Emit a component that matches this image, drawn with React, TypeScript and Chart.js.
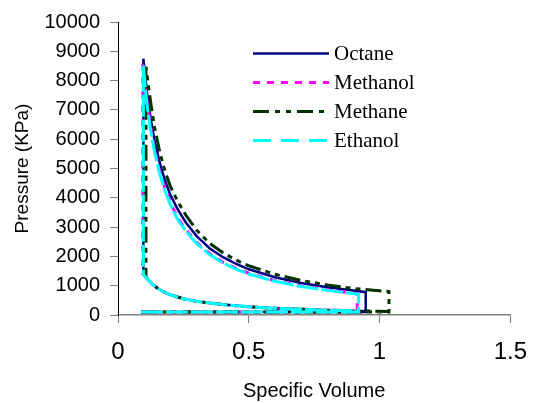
import React, { useEffect, useRef } from 'react';
import { Chart, registerables } from 'chart.js';

Chart.register(...registerables);

// ---- data ----
const fuelNames = ['Octane', 'Methanol', 'Methane', 'Ethanol'];
const fuelColors = ['#000080', '#FF00FF', '#003300', '#00FFFF'];

const xTickValues = [0, 0.5, 1, 1.5];
const yTickValues = [0, 1000, 2000, 3000, 4000, 5000, 6000, 7000, 8000, 9000, 10000];

// intake / exhaust line
const intakeStartVolume = 0.088;
const intakePressure = 105;

// compression stroke (shared shape)
const compressionVolume = [0.9, 0.8, 0.7, 0.6, 0.5, 0.4, 0.3, 0.25, 0.2, 0.17, 0.15, 0.13, 0.115];
const compressionPressure = [145, 165, 195, 230, 280, 355, 465, 555, 690, 810, 920, 1060, 1210];

// per fuel cycle limits
const cycleMinVolume = [0.097, 0.095, 0.107, 0.097];
const cycleMaxVolume = [0.947, 0.915, 1.036, 0.92];
const compressionStartPressure = [130, 135, 120, 135];
const compressionEndPressure = [1380, 1400, 1300, 1380];

// expansion strokes
const octaneExpansionVolume = [0.097, 0.11, 0.125, 0.14, 0.16, 0.18, 0.2, 0.23, 0.26, 0.3, 0.35, 0.4, 0.45, 0.5, 0.6, 0.7, 0.8, 0.9, 0.947];
const octaneExpansionPressure = [8750, 7660, 6700, 5950, 5180, 4580, 4100, 3580, 3150, 2700, 2280, 1980, 1750, 1560, 1290, 1095, 950, 840, 780];

const methanolExpansionVolume = [0.095, 0.11, 0.125, 0.14, 0.16, 0.18, 0.2, 0.23, 0.26, 0.3, 0.35, 0.4, 0.45, 0.5, 0.6, 0.7, 0.8, 0.915];
const methanolExpansionPressure = [8580, 7350, 6400, 5640, 4880, 4300, 3830, 3290, 2910, 2480, 2100, 1810, 1600, 1425, 1170, 990, 855, 725];

const methaneExpansionVolume = [0.107, 0.125, 0.14, 0.16, 0.18, 0.2, 0.23, 0.26, 0.3, 0.35, 0.4, 0.45, 0.5, 0.6, 0.7, 0.8, 0.9, 1.036];
const methaneExpansionPressure = [8475, 7250, 6400, 5550, 4900, 4400, 3850, 3400, 2900, 2450, 2130, 1880, 1680, 1390, 1180, 1025, 905, 800];

const ethanolExpansionVolume = [0.097, 0.11, 0.125, 0.14, 0.16, 0.18, 0.2, 0.23, 0.26, 0.3, 0.35, 0.4, 0.45, 0.5, 0.6, 0.7, 0.8, 0.92];
const ethanolExpansionPressure = [8500, 7250, 6300, 5550, 4800, 4230, 3770, 3230, 2860, 2440, 2060, 1780, 1570, 1400, 1150, 970, 840, 705];

const expansionVolumes = [octaneExpansionVolume, methanolExpansionVolume, methaneExpansionVolume, ethanolExpansionVolume];
const expansionPressures = [octaneExpansionPressure, methanolExpansionPressure, methaneExpansionPressure, ethanolExpansionPressure];

// ---- styles ----
const lineWidths = [2.5, 3, 3, 3];
const lineDashes: number[][] = [[], [7, 7], [16, 5, 5, 5, 5, 5], [22, 3]];
const legendDashes: number[][] = [[], [7, 7], [16, 6, 5, 6, 5, 6], [18, 10]];
const drawOrder = [4, 3, 2, 1];

function cyclePoints(i: number) {
  const vMin = cycleMinVolume[i];
  const vMax = cycleMaxVolume[i];
  const pts: { x: number; y: number }[] = [
    { x: intakeStartVolume, y: intakePressure },
    { x: vMax, y: intakePressure },
    { x: vMax, y: compressionStartPressure[i] },
  ];
  compressionVolume.forEach((v, k) => {
    if (v < vMax && v > vMin) pts.push({ x: v, y: compressionPressure[k] });
  });
  pts.push({ x: vMin, y: compressionEndPressure[i] });
  expansionVolumes[i].forEach((v, k) => pts.push({ x: v, y: expansionPressures[i][k] }));
  pts.push({ x: vMax, y: intakePressure });
  return pts;
}

const legendPlugin = {
  id: 'customLegend',
  afterDraw(chart: any) {
    const ctx = chart.ctx as CanvasRenderingContext2D;
    ctx.save();
    fuelNames.forEach((name, i) => {
      const y = 53.5 + i * 29;
      ctx.strokeStyle = fuelColors[i];
      ctx.lineWidth = lineWidths[i];
      ctx.lineCap = 'butt';
      ctx.setLineDash(legendDashes[i]);
      ctx.beginPath();
      ctx.moveTo(253, y);
      ctx.lineTo(329, y);
      ctx.stroke();
      ctx.setLineDash([]);
      ctx.fillStyle = '#000000';
      ctx.font = '21px "Liberation Serif", "Times New Roman", serif';
      ctx.textBaseline = 'middle';
      ctx.textAlign = 'left';
      ctx.fillText(name, 334, y + 1);
    });
    ctx.restore();
  },
};

export default function App() {
  const ref = useRef<HTMLCanvasElement | null>(null);

  useEffect(() => {
    if (!ref.current) return;
    const chart = new Chart(ref.current, {
      type: 'scatter',
      data: {
        datasets: fuelNames.map((name, i) => ({
          label: name,
          data: cyclePoints(i),
          showLine: true,
          borderColor: fuelColors[i],
          backgroundColor: fuelColors[i],
          borderWidth: lineWidths[i],
          borderDash: lineDashes[i],
          pointRadius: 0,
          pointHoverRadius: 0,
          fill: false,
          tension: 0,
          order: drawOrder[i],
        })),
      },
      options: {
        animation: false,
        responsive: false,
        devicePixelRatio: 1,
        layout: { padding: { top: 20, right: 20, left: 0, bottom: 0 } },
        plugins: {
          legend: { display: false },
          tooltip: { enabled: false },
          title: { display: false },
        },
        scales: {
          x: {
            type: 'linear',
            min: 0,
            max: 1.5,
            afterBuildTicks: (scale: any) => {
              scale.ticks = xTickValues.map((v) => ({ value: v }));
            },
            afterFit: (scale: any) => {
              scale.height = 88;
            },
            ticks: {
              callback: (v: any) => String(v),
              color: '#000000',
              font: { family: '"Liberation Sans", Arial, sans-serif', size: 24 },
              padding: 15,
              maxRotation: 0,
            },
            grid: {
              display: true,
              drawOnChartArea: false,
              drawTicks: true,
              tickLength: 8,
              color: '#808080',
              lineWidth: 1,
            },
            border: { display: true, color: '#808080', width: 1.5 },
            title: {
              display: true,
              text: 'Specific Volume',
              color: '#000000',
              font: { family: '"Liberation Sans", Arial, sans-serif', size: 20 },
              padding: { top: 0, bottom: 0 },
            },
          },
          y: {
            type: 'linear',
            min: 0,
            max: 10000,
            afterBuildTicks: (scale: any) => {
              scale.ticks = yTickValues.map((v) => ({ value: v }));
            },
            afterFit: (scale: any) => {
              scale.width = 118;
            },
            ticks: {
              callback: (v: any) => String(v),
              color: '#000000',
              font: { family: '"Liberation Sans", Arial, sans-serif', size: 20 },
              padding: 10,
            },
            grid: {
              display: true,
              drawOnChartArea: false,
              drawTicks: true,
              tickLength: 8,
              color: '#808080',
              lineWidth: 1,
            },
            border: { display: true, color: '#000000', width: 1 },
            title: {
              display: true,
              text: 'Pressure (KPa)',
              color: '#000000',
              font: { family: '"Liberation Sans", Arial, sans-serif', size: 19 },
              padding: { top: 11, bottom: 0 },
            },
          },
        },
      },
      plugins: [legendPlugin],
    });
    return () => chart.destroy();
  }, []);

  return (
    <div style={{ position: 'absolute', left: 0, top: 0, width: 542, height: 403, background: '#ffffff' }}>
      <canvas ref={ref} width={542} height={403} style={{ display: 'block', width: 542, height: 403 }} />
    </div>
  );
}
